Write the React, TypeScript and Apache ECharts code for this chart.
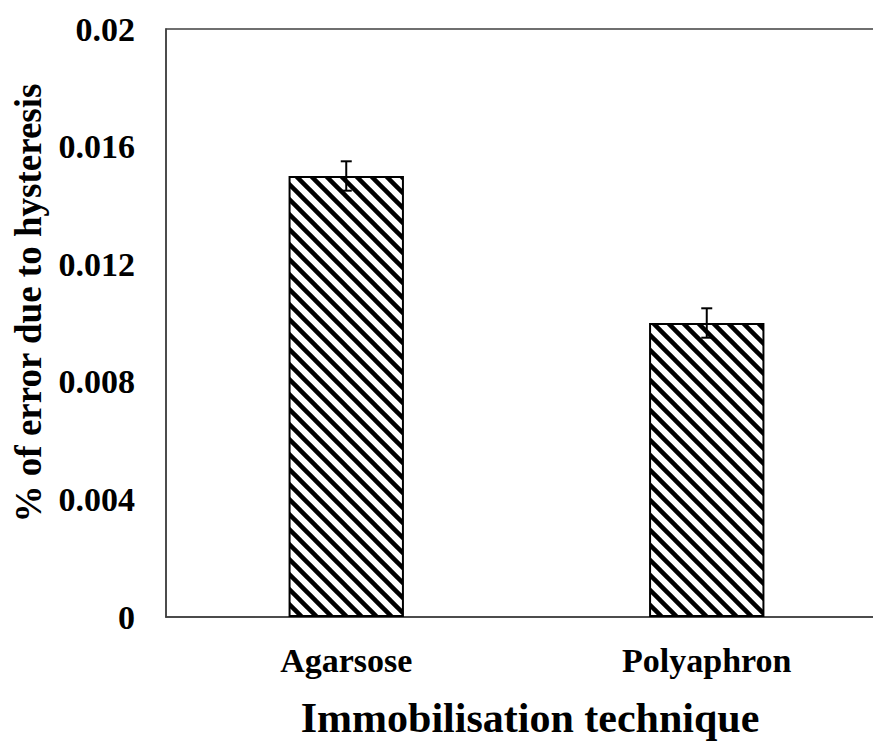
import React, { useEffect, useRef } from "react";
import * as echarts from "echarts";

const categories = ["Agarsose", "Polyaphron"];
const values = [0.015, 0.01];
const errors = [0.0005, 0.0005];
const yTickLabels = ["0", "0.004", "0.008", "0.012", "0.016", "0.02"];
const yTitle = "% of error due to hysteresis";
const xTitle = "Immobilisation technique";

function makeHatch(): HTMLCanvasElement {
  const s = 15;
  const c = document.createElement("canvas");
  c.width = s;
  c.height = s;
  const ctx = c.getContext("2d")!;
  ctx.fillStyle = "#fff";
  ctx.fillRect(0, 0, s, s);
  ctx.strokeStyle = "#000";
  ctx.lineWidth = 4.5;
  for (const k of [-s, 0, s]) {
    ctx.beginPath();
    ctx.moveTo(k - 5, -5);
    ctx.lineTo(k + s + 5, s + 5);
    ctx.stroke();
  }
  return c;
}

export default function App() {
  const ref = useRef<HTMLDivElement>(null);
  useEffect(() => {
    document.body.style.margin = "0";
    const chart = echarts.init(ref.current!, undefined, { renderer: "svg" });
    const font = "Liberation Serif";
    chart.setOption({
      animation: false,
      backgroundColor: "#fff",
      grid: {
        left: 166,
        top: 29,
        width: 721,
        height: 588,
        outerBoundsMode: "none",
        containLabel: false,
        show: true,
        borderColor: "#404040",
        borderWidth: 1.5,
      },
      xAxis: {
        type: "category",
        data: categories,
        axisLine: { show: true, lineStyle: { color: "#404040", width: 1.5 } },
        axisTick: { show: false },
        axisLabel: {
          color: "#000",
          fontFamily: font,
          fontWeight: "bold",
          fontSize: 34,
          margin: 26,
        },
      },
      yAxis: {
        type: "value",
        min: 0,
        max: 0.02,
        interval: 0.004,
        splitLine: { show: false },
        axisLine: { show: true, lineStyle: { color: "#404040", width: 1.5 } },
        axisTick: { show: false },
        axisLabel: {
          color: "#000",
          fontFamily: font,
          fontWeight: "bold",
          fontSize: 34,
          margin: 31,
          formatter: (v: number) => yTickLabels[Math.round(v / 0.004)] ?? "",
        },
      },
      graphic: [
        {
          type: "text",
          x: 28,
          y: 303,
          rotation: Math.PI / 2,
          style: {
            text: yTitle,
            fill: "#000",
            fontFamily: font,
            fontWeight: "bold",
            fontSize: 37,
            align: "center",
            verticalAlign: "middle",
          },
        },
        {
          type: "text",
          x: 530,
          y: 718,
          style: {
            text: xTitle,
            fill: "#000",
            fontFamily: font,
            fontWeight: "bold",
            fontSize: 42,
            align: "center",
            verticalAlign: "middle",
          },
        },
      ],
      series: [
        {
          type: "bar",
          data: values,
          barWidth: "32%",
          itemStyle: {
            color: { image: makeHatch(), repeat: "repeat" },
            borderColor: "#000",
            borderWidth: 2,
          },
        },
        {
          type: "custom",
          data: values.map((v, i) => [i, v, errors[i]]),
          renderItem: (params: any, api: any) => {
            const i = api.value(0);
            const v = api.value(1);
            const e = api.value(2);
            const hi = api.coord([i, v + e]);
            const lo = api.coord([i, v - e]);
            const hw = 5.5;
            const st = { stroke: "#000", lineWidth: 2 };
            return {
              type: "group",
              children: [
                { type: "line", shape: { x1: hi[0], y1: hi[1], x2: lo[0], y2: lo[1] }, style: st },
                { type: "line", shape: { x1: hi[0] - hw, y1: hi[1], x2: hi[0] + hw, y2: hi[1] }, style: st },
                { type: "line", shape: { x1: lo[0] - hw, y1: lo[1], x2: lo[0] + hw, y2: lo[1] }, style: st },
              ],
            };
          },
          z: 10,
        },
      ],
    });
    return () => chart.dispose();
  }, []);
  return (
    <div
      ref={ref}
      style={{ width: 873, height: 744, position: "absolute", left: 0, top: 0 }}
    />
  );
}
